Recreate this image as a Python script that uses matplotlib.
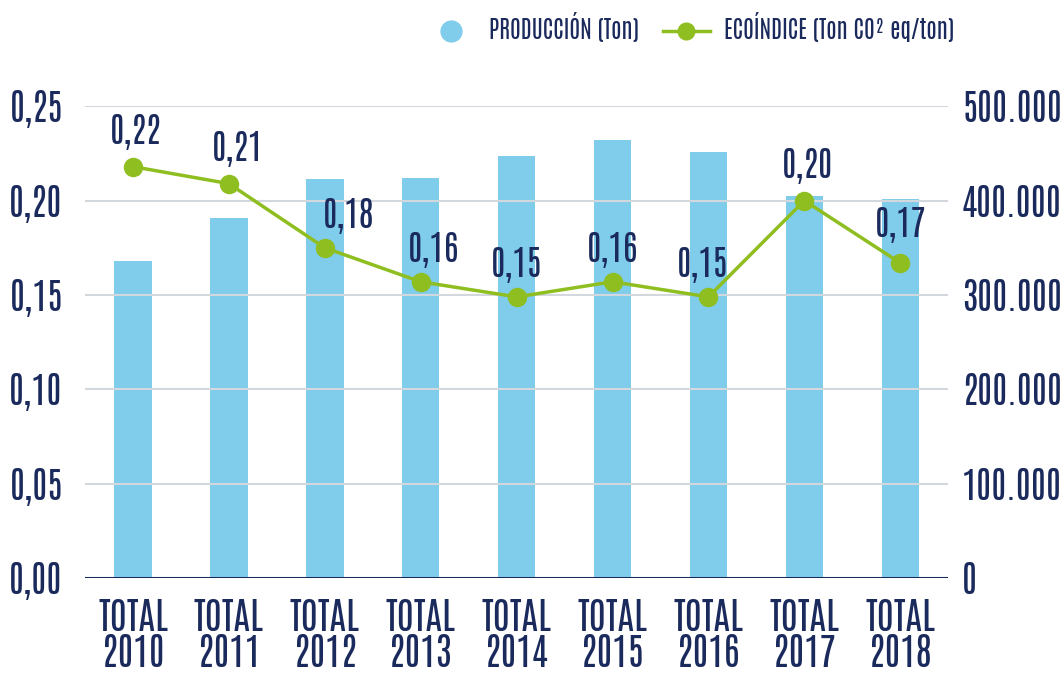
import matplotlib
matplotlib.use("Agg")
import matplotlib.pyplot as plt
from matplotlib.lines import Line2D
from matplotlib.ticker import FuncFormatter
import numpy as np

# data
years = ["2010", "2011", "2012", "2013", "2014", "2015", "2016", "2017", "2018"]
produccion = [336000, 382000, 423000, 424000, 447000, 464000, 452000, 405000, 402000]
ecoindice = [0.218, 0.209, 0.175, 0.157, 0.149, 0.157, 0.149, 0.200, 0.167]
eco_labels = ["0,22", "0,21", "0,18", "0,16", "0,15", "0,16", "0,15", "0,20", "0,17"]

NAVY = "#1b2a5c"
BLUE = "#7fcdeb"
GREEN = "#8fbe21"
GRID = "#d3d7de"

plt.rcParams["font.family"] = ["Antonio", "DejaVu Sans"]
plt.rcParams["font.weight"] = "bold"

fig = plt.figure(figsize=(10.63, 6.81), dpi=100)
ax = fig.add_axes([0.080, 0.151, 0.812, 0.693])  # left axis: ecoindice
ax2 = ax.twinx()                                  # right axis: produccion

x = np.arange(len(years))

ax2.bar(x, produccion, width=0.39, color=BLUE, zorder=2)
ax2.set_ylim(0, 500000)
ax2.set_yticks(np.arange(0, 500001, 100000))
ax2.yaxis.set_major_formatter(FuncFormatter(lambda v, p: f"{int(v):,}".replace(",", ".")))

ax.set_ylim(0, 0.25)
ax.set_yticks(np.arange(0, 0.251, 0.05))
ax.yaxis.set_major_formatter(FuncFormatter(lambda v, p: f"{v:.2f}".replace(".", ",")))
ax.set_xlim(-0.5, 8.5)
ax.set_xticks(x)
ax.set_xticklabels([f"TOTAL\n{y}" for y in years], linespacing=0.95)

# line on top of bars
ax.set_zorder(ax2.get_zorder() + 1)
ax.patch.set_visible(False)

ax.grid(axis="y", color=GRID, linewidth=1.5, zorder=0)
ax.set_axisbelow(True)
ax.plot(x, ecoindice, color=GREEN, linewidth=2.5, marker="o", markersize=13, zorder=4)

offsets = [(2, 12), (6, 12), (17, 10), (9, 10), (0, 10), (0, 10), (-4, 10), (2, 12), (0, 14)]
for xi, yi, lab, off in zip(x, ecoindice, eco_labels, offsets):
    ax.annotate(lab, (xi, yi), xytext=off, textcoords="offset points",
                ha="center", va="bottom", fontsize=25, color=NAVY, fontweight="bold", zorder=5)

for a in (ax, ax2):
    for s in a.spines.values():
        s.set_visible(False)
    a.tick_params(length=0, labelsize=26, labelcolor=NAVY)
ax.tick_params(axis="y", pad=16)
ax2.tick_params(axis="y", pad=10)
ax.tick_params(axis="x", pad=14, labelsize=27)
ax.axhline(0, color=NAVY, linewidth=2.2, zorder=6)

handles = [
    Line2D([], [], linestyle="none", marker="o", markersize=15, color=BLUE),
    Line2D([], [], color=GREEN, linewidth=2.5, marker="o", markersize=12),
]
fig.legend(handles, ["PRODUCCIÓN (Ton)", "ECOÍNDICE (Ton CO² eq/ton)"],
           loc="center right", bbox_to_anchor=(0.918, 0.96), ncol=2, frameon=False,
           fontsize=17, labelcolor=NAVY, handlelength=2.0, columnspacing=1.0,
           handletextpad=0.6)

fig.savefig("out.png", dpi=100)
